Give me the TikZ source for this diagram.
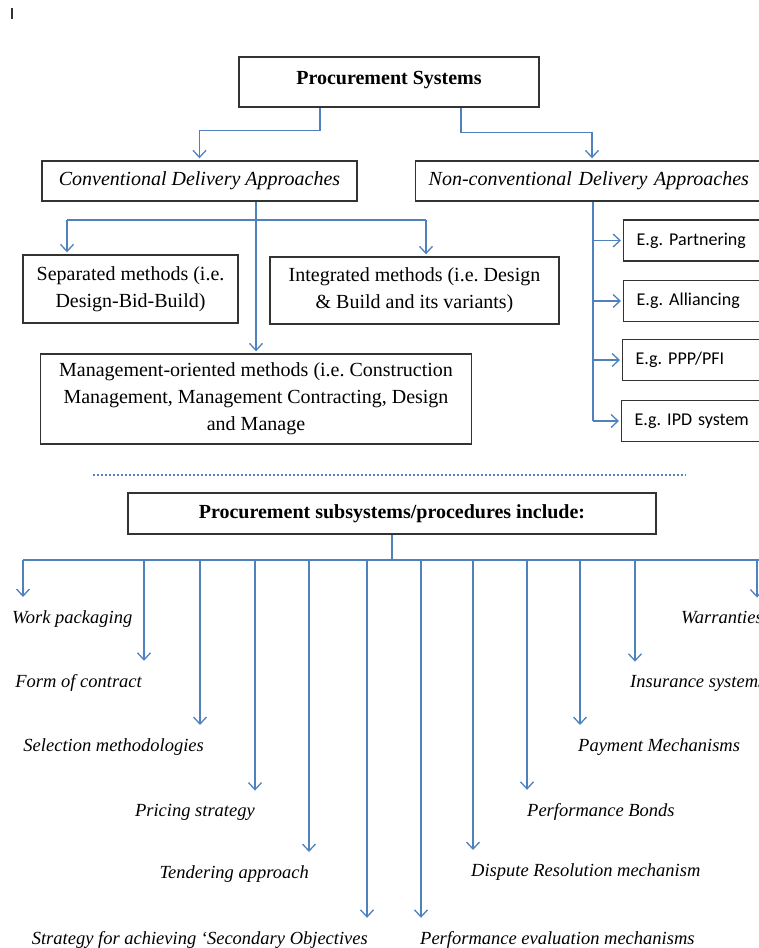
\documentclass[tikz,border=0pt]{standalone}
\usepackage{fontspec}
\setmainfont{Liberation Serif}
\newfontfamily\calibri{Carlito}
\usetikzlibrary{positioning,arrows.meta}
\definecolor{lnblue}{HTML}{4F81BD}
\definecolor{ink}{HTML}{333333}

\begin{document}
\begin{tikzpicture}[x=1pt, y=-1pt,
  box/.style={draw=ink, line width=1.4pt, align=center, inner sep=0pt, font=\fontsize{20}{27}\selectfont},
  ebox/.style={box, anchor=west, inner xsep=13pt, minimum height=41pt, text width=136pt, align=left, font=\calibri\fontsize{18}{22}\selectfont},
  item/.style={inner sep=0pt, font=\fontsize{18.5}{22}\selectfont\itshape},
  arr/.style={-{Straight Barb[length=7pt, width=13pt]}, lnblue, line width=1.3pt, shorten >=2pt},
  ln/.style={lnblue, line width=1.3pt}]
\useasboundingbox (0,0) rectangle (758,948);
\draw[line width=1.4pt, ink] (12,8) -- (12,19);
% delivery approaches
\node[box, minimum width=300pt, minimum height=50pt, text depth=9pt, font=\fontsize{20}{27}\selectfont\bfseries] (ps) at (389,82) {Procurement Systems};
\node[box, minimum width=315pt, minimum height=40pt, font=\fontsize{20}{27}\selectfont\itshape] (conv) at (199.5,181) {Conventional Delivery Approaches};
\node[box, anchor=west, inner xsep=13pt, minimum height=40pt, text width=345pt, align=left, font=\fontsize{20}{27}\selectfont\itshape] (nonconv) at (415,181) {Non-conventional Delivery Approaches};
\node[box, minimum width=215pt, minimum height=68pt] (sep) at (130.5,289) {Separated methods (i.e.\\Design-Bid-Build)};
\node[box, minimum width=289pt, minimum height=67pt] (integ) at (414.5,290.5) {Integrated methods (i.e.\ Design\\\& Build and its variants)};
\node[box, minimum width=431pt, minimum height=90pt] (mgmt) at (256,399) {Management-oriented methods (i.e.\ Construction\\Management, Management Contracting, Design\\and Manage};
\node[ebox] (partner) at (623,240.5) {E.g.\ Partnering};
\node[ebox] (alli) at (623,301) {E.g.\ Alliancing};
\node[ebox] (ppp) at (622,360) {E.g.\ PPP/PFI};
\node[ebox] (ipd) at (621,421) {E.g.\ IPD system};
\draw[arr] ([xshift=-69pt]ps.south) -- ++(0,23) -| (conv.north);
\draw[arr] ([xshift=72pt]ps.south) -- ++(0,25) -| ([xshift=177pt]nonconv.north west);
\coordinate (sepdrop) at (67,220); \coordinate (intdrop) at (426,220);
\draw[ln] (sepdrop) -- (intdrop);
\draw[arr] (conv.south -| mgmt.north) -- (mgmt.north);
\draw[arr] (sepdrop) -- (sepdrop |- sep.north); \draw[arr] (intdrop) -- (intdrop |- integ.north);
\coordinate (nc) at ([xshift=178pt]nonconv.south west);
\draw[ln] (nc) -- (nc |- ipd.west);
\foreach \b in {partner,alli,ppp,ipd} \draw[arr] (nc |- \b.west) -- (\b.west);
\draw[ln, line width=1.3pt, dash pattern=on 1.6pt off 2.4pt] (93,475) -- (686,475);
% subsystems
\node[box, minimum width=528pt, minimum height=41pt, font=\fontsize{20}{27}\selectfont\bfseries] (subsys) at (392,513.5) {Procurement subsystems/procedures include:};
\foreach \i/\x/\t/\lx/\side/\txt in {1/23/597/12/west/Work packaging, 2/144/661/142/east/Form of contract,
  3/200/725/204/east/Selection methodologies, 4/255/790/255/east/Pricing strategy,
  5/309/852/309/east/Tendering approach, 6/367/918/368/east/Strategy for achieving ‘Secondary Objectives,
  7/421/918/420/west/Performance evaluation mechanisms, 8/473/850/471/west/Dispute Resolution mechanism,
  9/527/790/527/west/Performance Bonds, 10/580/725/578/west/Payment Mechanisms,
  11/635/661/630/west/Insurance systems, 12/757/597/681/west/Warranties} {
  \node[item, anchor=base \side] (s\i) at (\lx,\t+26) {\txt};
  \coordinate (d\i) at (\x,560);
  \draw[arr, shorten >=13pt] (d\i) -- (d\i |- s\i.north);
}
\draw[ln] (subsys.south) -- (subsys.south |- d1);
\draw[ln] (d1) -- ([xshift=20pt]d12);
\end{tikzpicture}
\end{document}
